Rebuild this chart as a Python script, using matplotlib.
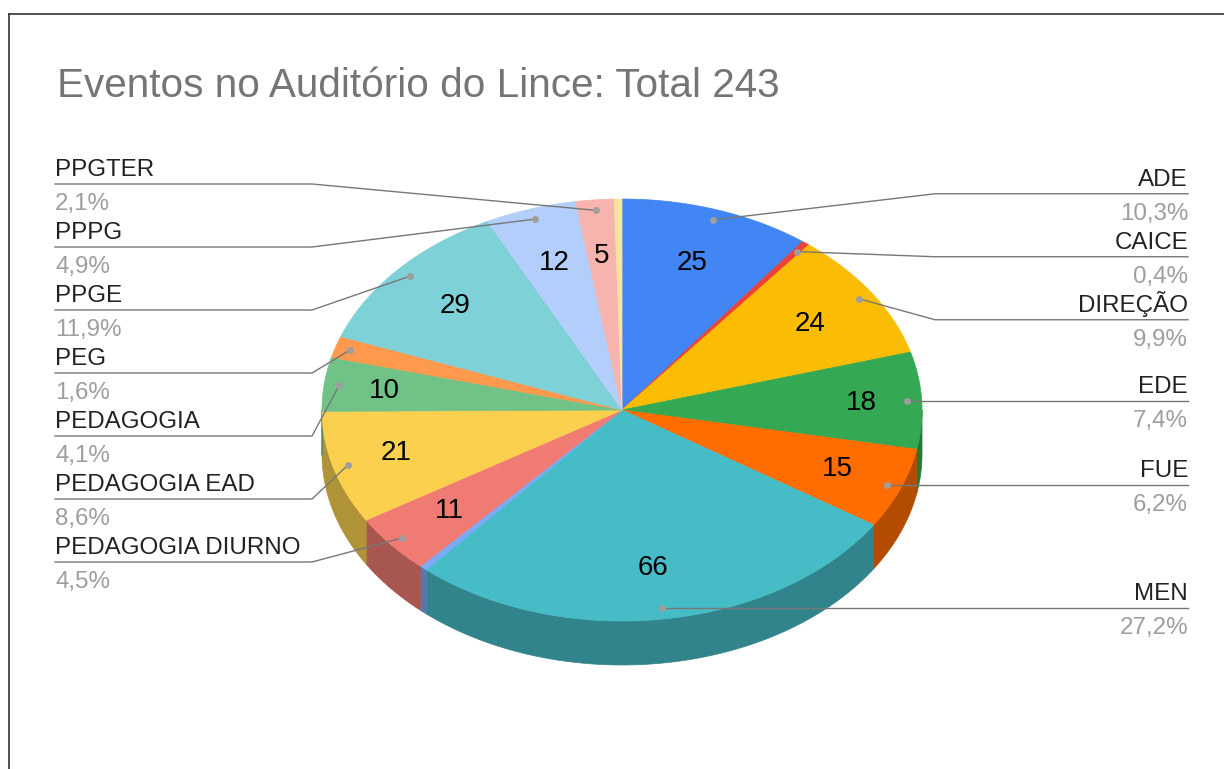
import numpy as np
import matplotlib.pyplot as plt
from matplotlib.patches import Polygon

plt.rcParams['font.family'] = ['Liberation Sans', 'DejaVu Sans']

# dados (fatias em sentido horario a partir do topo)
categorias = ["ADE", "CAICE", "DIREÇÃO", "EDE", "FUE", "MEN", "",
              "PEDAGOGIA DIURNO", "PEDAGOGIA EAD", "PEDAGOGIA", "PEG",
              "PPGE", "PPPG", "PPGTER", ""]
eventos = [25, 1, 24, 18, 15, 66, 1, 11, 21, 10, 4, 29, 12, 5, 1]
cores = ["#4285F4", "#EA4335", "#FBBC04", "#34A853", "#FF6D01", "#46BDC6",
         "#7BAAF7", "#F07B72", "#FCD04F", "#71C287", "#FF994D", "#7ED1D7",
         "#B3CEFB", "#F7B4AE", "#FDE49B"]
titulo = "Eventos no Auditório do Lince: Total 243"

# geometria (pixels)
cx, cy = 622, 410
rx, ry = 300, 211
prof = 44
gap = 63


def ponto(t, r=1.0, rv=None):
    rv = r if rv is None else rv
    return cx + rx * r * np.sin(t), cy - ry * rv * np.cos(t)


def escurecer(c, f=0.7):
    c = c.lstrip("#")
    rgb = [int(c[i:i + 2], 16) / 255 for i in (0, 2, 4)]
    return tuple(v * f for v in rgb)


def espalhar(ys, ymin):
    blocos = []
    for y in ys:
        blocos.append([y, 1])
        while len(blocos) > 1:
            c2, n2 = blocos[-1]
            c1, n1 = blocos[-2]
            if (c2 - (n2 - 1) * gap / 2) - (c1 + (n1 - 1) * gap / 2) < gap:
                blocos.pop()
                blocos[-1] = [(c1 * n1 + c2 * n2) / (n1 + n2), n1 + n2]
            else:
                break
    pos = []
    for c, n in blocos:
        for k in range(n):
            pos.append(c + (k - (n - 1) / 2) * gap)
    pos[0] = max(pos[0], ymin)
    for i in range(1, len(pos)):
        pos[i] = max(pos[i], pos[i - 1] + gap)
    return pos


total = sum(eventos)
fr = np.array(eventos) / total
ini = np.concatenate([[0], np.cumsum(fr)[:-1]]) * 2 * np.pi
fim = np.cumsum(fr) * 2 * np.pi

fig = plt.figure(figsize=(12.24, 7.69), dpi=100)
ax = fig.add_axes([0, 0, 1, 1])
ax.set_xlim(0, 1224)
ax.set_ylim(769, 0)
ax.axis("off")

# lateral (parte da frente)
for a, b, cor in zip(ini, fim, cores):
    a2, b2 = max(a, np.pi / 2), min(b, 3 * np.pi / 2)
    if b2 <= a2:
        continue
    t = np.linspace(a2, b2, 80)
    xs, ys = ponto(t)
    pts = list(zip(xs, ys)) + list(zip(xs[::-1], ys[::-1] + prof))
    ax.add_patch(Polygon(pts, closed=True, fc=escurecer(cor), ec=escurecer(cor), lw=0.5))

# topo
for a, b, cor in zip(ini, fim, cores):
    t = np.linspace(a, b, 200)
    xs, ys = ponto(t)
    pts = [(cx, cy)] + list(zip(xs, ys))
    ax.add_patch(Polygon(pts, closed=True, fc=cor, ec=cor, lw=0.5))

# valores dentro das fatias
for a, b, v in zip(ini, fim, eventos):
    if v >= 5:
        m = (a + b) / 2
        fx = 0.74 + 0.06 * np.sin(m) ** 8
        fy = 0.745 - 0.012 * np.cos(m)
        x, y = ponto(m, fx, fy)
        ax.text(x, y, str(v), fontsize=20, color="#000000", ha="center", va="center")

# rotulos com linhas
dir_, esq = [], []
for i, nome in enumerate(categorias):
    if not nome:
        continue
    m = (ini[i] + fim[i]) / 2
    dx, dy = ponto(m, 0.95)
    (dir_ if m < np.pi else esq).append((dy, dx, i))

for lado, grupo in (("d", dir_), ("e", esq)):
    grupo.sort()
    linhas = espalhar([g[0] for g in grupo], 184)
    for (dy, dx, i), ly in zip(grupo, linhas):
        pct = f"{eventos[i] / total * 100:.1f}%".replace(".", ",")
        if lado == "d":
            ex, tx, ha = 935, 1188, "right"
        else:
            ex, tx, ha = 312, 55, "left"
        ax.plot([dx, ex, tx], [dy, ly, ly], color="#777777", lw=1.0, zorder=3)
        ax.plot([dx], [dy], "o", ms=5, color="#9e9e9e", mec="none", zorder=4)
        ax.text(tx, ly - 8, categorias[i], fontsize=17.4, color="#222222", ha=ha, va="baseline")
        ax.text(tx, ly + 26, pct, fontsize=17.4, color="#9e9e9e", ha=ha, va="baseline")

ax.text(57, 97, titulo, fontsize=29.2, color="#757575", ha="left", va="baseline")

# moldura
ax.plot([9, 1224], [14, 14], color="#333333", lw=1.2, clip_on=False)
ax.plot([9, 9], [14, 769], color="#333333", lw=1.2, clip_on=False)

fig.savefig("out.png", dpi=100)
